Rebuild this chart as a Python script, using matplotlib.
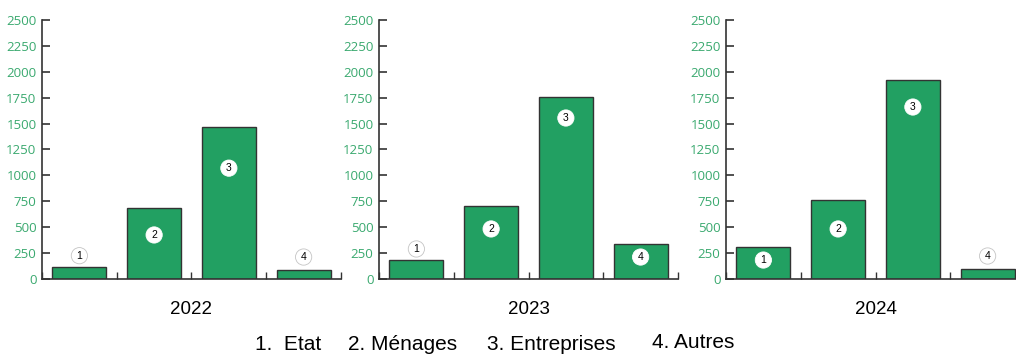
import matplotlib.pyplot as plt

plt.rcParams['font.family'] = ['Liberation Sans', 'DejaVu Sans']

years = ['2022', '2023', '2024']
sectors = ['1.  Etat', '2. Ménages', '3. Entreprises', '4. Autres']
values_2022 = [115, 690, 1470, 85]
values_2023 = [185, 705, 1755, 335]
values_2024 = [305, 760, 1920, 95]
yticks = [0, 250, 500, 750, 1000, 1250, 1500, 1750, 2000, 2250, 2500]

# height of the numbered marker on each bar
marks_2022 = [225, 425, 1070, 212]
marks_2023 = [290, 483, 1554, 212]
marks_2024 = [183, 483, 1660, 222]

green = '#22a062'
tick_green = '#3aa96f'
dark = '#333333'

W, H = 1016, 354
fig = plt.figure(figsize=(W / 100, H / 100), dpi=100)

lefts = [42, 379, 726]
series = [values_2022, values_2023, values_2024]
marks = [marks_2022, marks_2023, marks_2024]

for left, year, vals, mk in zip(lefts, years, series, marks):
    ax = fig.add_axes([left / W, 75 / H, 299 / W, 259 / H])
    x = list(range(len(vals)))
    ax.bar(x, vals, width=0.72, color=green, edgecolor=dark, linewidth=1.0)
    ax.set_xlim(-0.5, 3.5)
    ax.set_ylim(0, 2500)
    ax.set_yticks(yticks)
    ax.set_yticklabels([str(t) for t in yticks], family='Open Sans')
    ax.tick_params(axis='y', direction='in', colors=dark, labelcolor=tick_green,
                   labelsize=9.5, length=6, width=1.2, pad=4)
    ax.set_xticks([-0.5, 0.5, 1.5, 2.5, 3.5])
    ax.set_xticklabels([])
    ax.tick_params(axis='x', direction='in', length=5, width=1.0, colors=dark)
    for s in ['top', 'right']:
        ax.spines[s].set_visible(False)
    for s in ['left', 'bottom']:
        ax.spines[s].set_color(dark)
        ax.spines[s].set_linewidth(1.2)
    ax.set_xlabel(year, fontsize=13.5, labelpad=12, color='black')

    for i, (v, m) in enumerate(zip(vals, mk)):
        inside = m < v
        ax.text(i, m, str(i + 1), ha='center', va='center', fontsize=7.5,
                color='black',
                bbox=dict(boxstyle='circle,pad=0.3', fc='white',
                          ec='white' if inside else '#c4c4c4', lw=0.6))

legend_x = [255, 348, 487, 652]
legend_y = [344, 344, 344, 342]
for name, lx, ly in zip(sectors, legend_x, legend_y):
    fig.text(lx / W, 1 - ly / H, name, fontsize=15, ha='left', va='center')

fig.savefig('out.png', dpi=100)
